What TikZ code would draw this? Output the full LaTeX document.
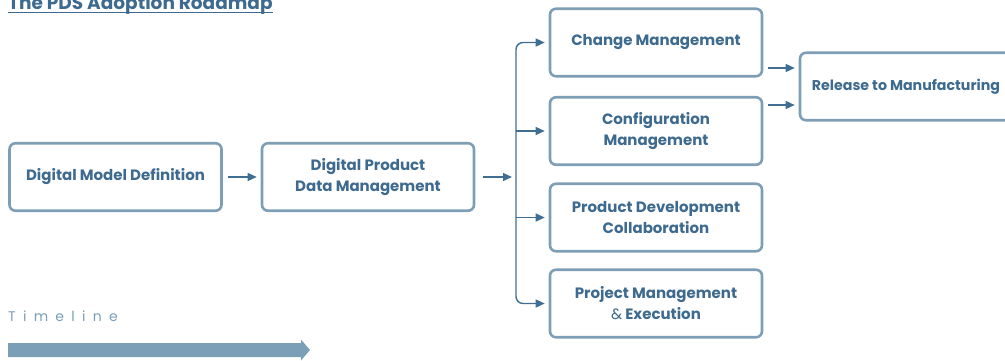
\documentclass[tikz,border=0pt]{standalone}
\usepackage{fontspec}
\setmainfont{Poppins}
\usetikzlibrary{arrows.meta,calc}
\definecolor{boxline}{HTML}{7D9EB5}
\definecolor{txt}{HTML}{3D6A8E}
\definecolor{arr}{HTML}{3F6E92}
\definecolor{tl}{HTML}{7A9FB6}
\begin{document}
\begin{tikzpicture}[x=1pt,y=-1pt,
  stage/.style={draw=boxline, line width=2.6pt, rounded corners=6pt,
    minimum width=212pt, minimum height=67.5pt, align=center, text=txt,
    font=\fontsize{15}{21}\selectfont\bfseries, inner sep=0pt},
  link/.style={draw=arr, line width=1.4pt, -{Triangle[length=9pt,width=8pt]}}]
\useasboundingbox (0,0) rectangle (1005,360);
% title
\node[anchor=base west, text=txt, inner sep=0pt,
  font=\fontsize{18.5}{20}\selectfont\bfseries] (title) at (8,9.5) {The PDS Adoption Roadmap};
\draw[txt, line width=1.2pt] ($(title.base west)+(0,3.1)$) -- ($(title.base east)+(0,3.1)$);
% stages
\node[stage] (dmd)  at (115.5,177) {Digital Model Definition};
\node[stage] (dpdm) at (368,177)   {Digital Product\\Data Management};
\node[stage] (chg)  at (656,42.5)  {Change Management};
\node[stage] (cfg)  at (656,131)   {Configuration\\Management};
\node[stage] (pdc)  at (656,217.5) {Product Development\\Collaboration};
\node[stage] (pm)   at (656,303.5) {Project Management\\{\mdseries\&} Execution};
\node[stage, font=\fontsize{14.2}{21}\selectfont\bfseries] (rel) at (906,86.5) {Release to Manufacturing};
% connectors
\coordinate (br) at (516,177);
\draw[link] ($(dmd.east)+(5,0)$) -- ($(dpdm.west)+(-4,0)$);
\draw[link] ($(dpdm.east)+(8,0)$) -- ($(br)+(-4,0)$);
\draw[link, rounded corners=7pt] (br) |- ($(chg.west)+(-4,0)$);
\draw[link, rounded corners=7pt] (br) |- ($(pm.west)+(-4,0)$);
\draw[link] (br |- cfg.west) -- ($(cfg.west)+(-4,0)$);
\draw[link] (br |- pdc.west) -- ($(pdc.west)+(-4,0)$);
\coordinate (r1) at (768,68);
\coordinate (r2) at (768,105);
\draw[link] (r1) -- ($(rel.west |- r1)+(-4,0)$);
\draw[link] (r2) -- ($(rel.west |- r2)+(-4,0)$);
% timeline
\node[anchor=base west, text=tl, inner sep=0pt,
  font=\fontsize{14}{16}\selectfont\addfontfeatures{LetterSpace=52}] (tline) at (8,321) {Timeline};
\fill[tl] (8,343) -- (301,343) -- (301,339.5) -- (310,350) -- (301,360.5) -- (301,357) -- (8,357) -- cycle;
\end{tikzpicture}
\end{document}
